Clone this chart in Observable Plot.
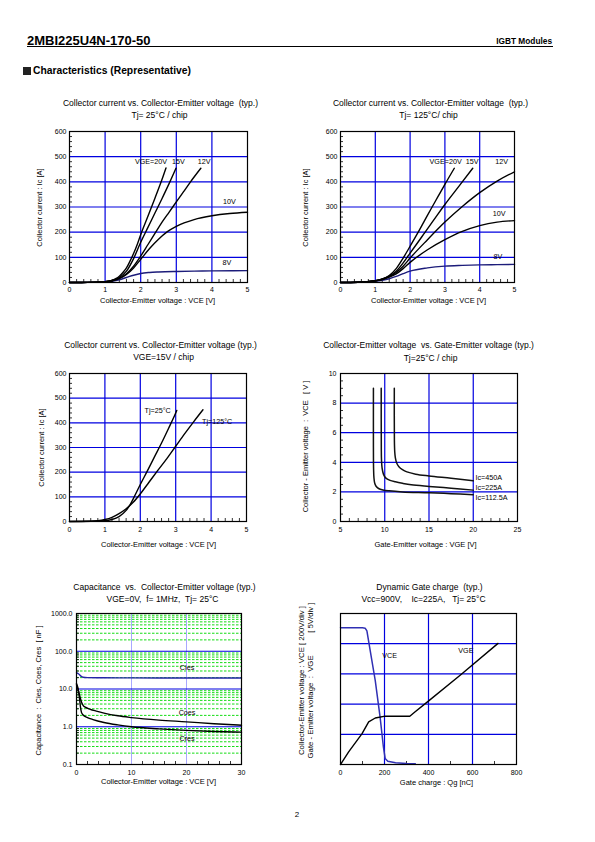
<!DOCTYPE html>
<html><head><meta charset="utf-8">
<script src="https://cdn.jsdelivr.net/npm/d3@7"></script>
<script src="https://cdn.jsdelivr.net/npm/@observablehq/plot@0.6"></script>
<style>
html,body{margin:0;padding:0;background:#fff;}
#page{position:relative;width:595px;height:842px;overflow:hidden;font-family:"Liberation Sans",Arial,sans-serif;color:#000;background:#fff;}
.abs{position:absolute;white-space:pre;line-height:1;}
svg text{white-space:pre;}
</style></head><body><div id="page">
<div class="abs" style="left:27px;top:33.5px;font-size:13px;font-weight:bold;">2MBI225U4N-170-50</div>
<div class="abs" style="left:27px;top:45.5px;width:526px;height:1px;background:#000;"></div>
<div class="abs" style="right:43px;top:36.5px;font-size:8.3px;font-weight:bold;">IGBT Modules</div>
<div class="abs" style="left:23px;top:67px;width:8px;height:8px;background:#222;"></div>
<div class="abs" style="left:33px;top:66.3px;font-size:10.3px;font-weight:bold;">Characteristics (Representative)</div>
<div class="abs" style="left:292px;top:811px;font-size:8px;width:10px;text-align:center;">2</div>
</div>
<script>
// ================= DATA =================
// Output characteristics, Tj = 25°C  [VCE (V), Ic (A)]
const ic25_vge20 = [[0,0],[0.5,0.5],[1.0,3],[1.2,8],[1.3,15],[1.4,25],[1.5,40],[1.6,58],[1.7,85],[1.8,115],[1.9,150],[2.0,190],[2.2,262],[2.4,335],[2.6,410],[2.71,455]];
const ic25_vge15 = [[0,0],[0.5,0.5],[1.0,3],[1.2,8],[1.4,20],[1.6,45],[1.8,95],[2.0,160],[2.2,218],[2.4,276],[2.6,334],[2.8,394],[2.99,454]];
const ic25_vge12 = [[0,0],[0.5,0.5],[1.0,3],[1.2,7],[1.4,17],[1.6,35],[1.8,65],[2.0,105],[2.2,150],[2.4,195],[2.6,240],[2.8,280],[3.0,320],[3.2,360],[3.4,400],[3.69,454]];
const ic25_vge10 = [[0,0],[0.5,0.5],[1.0,3],[1.2,7],[1.4,15],[1.6,32],[1.8,58],[2.0,92],[2.25,135],[2.5,172],[2.75,202],[3.0,223],[3.5,250],[4.0,265],[4.5,274],[5,279]];
const ic25_vge8  = [[0,0],[0.5,0.5],[1.0,2],[1.2,5],[1.4,11],[1.6,20],[1.8,29],[2.0,36],[2.25,40],[2.5,42],[3,44],[3.5,45],[4,46],[5,47]];
const labels25 = [{x:2.29,y:481,t:"VGE=20V"},{x:3.06,y:481,t:"15V"},{x:3.78,y:481,t:"12V"},{x:4.49,y:322,t:"10V"},{x:4.42,y:79,t:"8V"}];

// Output characteristics, Tj = 125°C
const ic125_vge20 = [[0,0],[0.5,1],[1.0,7],[1.2,14],[1.4,28],[1.6,55],[1.8,97],[2.0,144],[2.2,192],[2.4,242],[2.6,292],[2.8,341],[3.0,390],[3.27,454]];
const ic125_vge15 = [[0,0],[0.5,1],[1.0,7],[1.2,13],[1.4,25],[1.6,45],[1.8,78],[2.0,117],[2.2,155],[2.4,194],[2.6,233],[2.8,272],[3.0,310],[3.4,382],[3.8,454]];
const ic125_vge12 = [[0,0],[0.5,1],[1.0,7],[1.2,13],[1.4,23],[1.6,40],[1.8,65],[2.0,97],[2.5,170],[3.0,240],[3.5,302],[4.0,357],[4.5,403],[5,440]];
const ic125_vge10 = [[0,0],[0.5,1],[1.0,7],[1.2,12],[1.4,21],[1.6,34],[1.8,55],[2.0,80],[2.5,130],[3.0,170],[3.5,203],[4.0,226],[4.5,240],[5,246]];
const ic125_vge8  = [[0,0],[0.5,1],[1.0,5],[1.2,9],[1.4,15],[1.6,24],[1.8,35],[2.0,45],[2.5,58],[3,65],[3.5,68],[4,70],[4.5,71],[5,72]];
const labels125 = [{x:3.02,y:481,t:"VGE=20V"},{x:3.78,y:481,t:"15V"},{x:4.63,y:481,t:"12V"},{x:4.56,y:275,t:"10V"},{x:4.52,y:103,t:"8V"}];

// VGE = 15V, two temperatures
const ic15_tj25  = [[0,0],[0.5,1],[1.0,3],[1.2,8],[1.4,20],[1.6,45],[1.7,65],[1.8,92],[2.0,150],[2.2,205],[2.4,262],[2.6,318],[2.8,378],[3.0,440],[3.03,450]];
const ic15_tj125 = [[0,0],[0.6,1],[0.8,3],[1.0,8],[1.2,17],[1.4,32],[1.6,52],[1.8,78],[2.0,112],[2.25,160],[2.5,208],[2.75,255],[3.0,305],[3.25,355],[3.5,403],[3.77,453]];
const labelsTj = [{x:2.49,y:451,t:"Tj=25°C"},{x:4.17,y:403,t:"Tj=125°C"}];

// VCE vs VGE  [VGE (V), VCE (V)]
const vce_ic450  = [[11.08,9],[11.09,5.5],[11.13,4.7],[11.2,4.3],[11.35,3.95],[11.6,3.7],[12.0,3.5],[12.5,3.35],[13.5,3.2],[15,3.08],[17.5,2.92],[20,2.75]];
const vce_ic225  = [[9.6,9],[9.61,5],[9.63,4.2],[9.7,3.6],[9.85,3.2],[10.1,2.95],[10.6,2.78],[11.2,2.68],[12,2.58],[13,2.48],[15,2.37],[17.5,2.25],[20,2.12]];
const vce_ic1125 = [[8.72,9],[8.72,5],[8.74,3.5],[8.78,2.95],[8.86,2.6],[9.0,2.4],[9.3,2.23],[9.8,2.13],[10.5,2.07],[12,2.0],[15,1.94],[17.5,1.88],[20,1.81]];
const labelsIc = [{x:20.25,y:2.99,t:"Ic=450A"},{x:20.25,y:2.28,t:"Ic=225A"},{x:20.25,y:1.64,t:"Ic=112.5A"}];

// Capacitance  [VCE (V), C (nF)]
const cies = [[0,27],[0.4,25],[0.8,22],[1.2,20.5],[2,20],[5,19.8],[10,19.7],[20,19.6],[30,19.5]];
const coes = [[0,13],[0.3,9.5],[0.6,6.5],[0.9,4.5],[1.2,3.7],[1.6,3.3],[2.5,2.9],[3.6,2.6],[5,2.3],[7.5,1.95],[10,1.75],[15,1.5],[20,1.35],[25,1.2],[30,1.1]];
const cres = [[0,14],[0.3,10],[0.5,6.5],[0.7,3.5],[0.9,2.4],[1.2,2.05],[2,1.75],[3,1.55],[5,1.3],[7.5,1.12],[10,1.0],[15,0.88],[20,0.8],[25,0.75],[30,0.72]];
const labelsCap = [{x:20.1,y:37.8,t:"Cies"},{x:20.1,y:2.43,t:"Coes"},{x:20.1,y:0.48,t:"Cres"}];

// Dynamic gate charge  [Qg (nC), VCE (V)] and [Qg (nC), VGE (V, 5V/div from bottom)]
const gateVCE = [[0,905],[50,905],[100,905],[112,903],[120,885],[135,754],[158,556],[180,314],[195,116],[203,40],[215,22],[250,12],[300,7],[340,5]];
const gateVGE = [[0,0],[37,2.1],[98,5.1],[128,7.05],[158,7.7],[203,8.0],[315,8.0],[338,8.7],[398,10.45],[548,14.9],[716,20.05]];
const labelsGate = [{x:223,y:720,t:"VCE"},{x:570,y:752,t:"VGE"}];

// Tick values
const vceTicks = [0,1,2,3,4,5];
const icTicks = [0,100,200,300,400,500,600];
const vgeTicks = [5,10,15,20,25];
const vceYTicks = [0,2,4,6,8,10];
const capXTicks = [0,10,20,30];
const capYTicks = [0.1,1,10,100,1000];
const qgTicks = [0,200,400,600,800];

// ================= HELPERS =================
const BLUE = "#0000e0";
const FONT = "Liberation Sans, Arial, sans-serif";
const XY = {x: d => d[0], y: d => d[1]};
const plain = d => String(d);

function place(svg, f) {
  svg.style.position = "absolute";
  svg.style.left = f.sx + "px";
  svg.style.top = f.sy + "px";
  svg.style.maxWidth = "none";
  svg.style.background = "transparent";
  svg.style.overflow = "visible";
  document.getElementById("page").appendChild(svg);
}
function plot(f, x, y, marks) {
  return Plot.plot({
    width: f.sw, height: f.sh,
    marginLeft: f.L - f.sx, marginRight: f.sx + f.sw - f.R,
    marginTop: f.T - f.sy, marginBottom: f.sy + f.sh - f.B,
    x, y,
    style: {fontFamily: FONT, fontSize: "7px", background: "transparent", overflow: "visible", color: "#000"},
    marks
  });
}
function txt(f, s, px, py, o = {}) {
  return Plot.text([s], {text: d => d, frameAnchor: "top-left", dx: px - f.L, dy: py - f.T,
    textAnchor: "middle", lineAnchor: "bottom", fontSize: 8.5, fill: "#000", ...o});
}
function ylab(f, s, px, py, o = {}) {
  return txt(f, s, px, py, {rotate: -90, lineAnchor: "middle", fontSize: 7.5, ...o});
}
function minorX(f, vals, len = 3) { return Plot.ruleX(vals, {stroke: "#000", strokeWidth: 0.8, insetTop: (f.B - f.T) - len}); }
function minorY(f, vals, len = 3) { return Plot.ruleY(vals, {stroke: "#000", strokeWidth: 0.8, insetRight: (f.R - f.L) - len}); }
const frame = () => Plot.frame({stroke: "#000", strokeWidth: 1.2});
const curveLabels = (lab, o = {}) => Plot.text(lab, {x: "x", y: "y", text: "t", fontSize: 7.2, lineAnchor: "middle", fill: "#000", ...o});

const minorV = d3.range(0.2, 5, 0.2).filter(v => Math.abs(v - Math.round(v)) > 0.05);
const minorI = d3.range(20, 600, 20).filter(v => v % 100 !== 0);

// ================= CHART 1 =================
const F1 = {L:69, R:247, T:131, B:282, sx:25, sy:92, sw:245, sh:218};
place(plot(F1,
  {domain:[0,5], ticks: vceTicks, tickFormat: plain, tickSize: 0, tickPadding: 5, label: null},
  {domain:[0,600], ticks: icTicks, tickFormat: plain, tickSize: 0, tickPadding: 3, label: null},
  [
    Plot.ruleX([1,2,3,4], {stroke: BLUE, strokeWidth: 1.2}),
    Plot.ruleY([100,200,300,400,500], {stroke: BLUE, strokeWidth: 1.2}),
    minorX(F1, minorV), minorY(F1, minorI),
    Plot.line(ic25_vge8, {...XY, stroke: "#1c1c7a", strokeWidth: 1.4, curve: "monotone-x"}),
    Plot.line(ic25_vge10, {...XY, stroke: "#000", strokeWidth: 1.4, curve: "monotone-x"}),
    Plot.line(ic25_vge12, {...XY, stroke: "#000", strokeWidth: 1.4, curve: "monotone-x"}),
    Plot.line(ic25_vge15, {...XY, stroke: "#000", strokeWidth: 1.4, curve: "monotone-x"}),
    Plot.line(ic25_vge20, {...XY, stroke: "#000", strokeWidth: 1.4, curve: "monotone-x"}),
    curveLabels(labels25),
    frame(),
    txt(F1, "Collector current vs. Collector-Emitter voltage  (typ.)", 160, 105.5),
    txt(F1, "Tj= 25°C / chip", 159, 117),
    txt(F1, "Collector-Emitter voltage : VCE [V]", 157, 302, {fontSize: 7.5}),
    ylab(F1, "Collector current : Ic [A]", 39.5, 207)
  ]), F1);

// ================= CHART 2 =================
const F2 = {L:340, R:514, T:131, B:282, sx:295, sy:92, sw:245, sh:218};
place(plot(F2,
  {domain:[0,5], ticks: vceTicks, tickFormat: plain, tickSize: 0, tickPadding: 5, label: null},
  {domain:[0,600], ticks: icTicks, tickFormat: plain, tickSize: 0, tickPadding: 3, label: null},
  [
    Plot.ruleX([1,2,3,4], {stroke: BLUE, strokeWidth: 1.2}),
    Plot.ruleY([100,200,300,400,500], {stroke: BLUE, strokeWidth: 1.2}),
    minorX(F2, minorV), minorY(F2, minorI),
    Plot.line(ic125_vge8, {...XY, stroke: "#1c1c7a", strokeWidth: 1.4, curve: "monotone-x"}),
    Plot.line(ic125_vge10, {...XY, stroke: "#000", strokeWidth: 1.4, curve: "monotone-x"}),
    Plot.line(ic125_vge12, {...XY, stroke: "#000", strokeWidth: 1.4, curve: "monotone-x"}),
    Plot.line(ic125_vge15, {...XY, stroke: "#000", strokeWidth: 1.4, curve: "monotone-x"}),
    Plot.line(ic125_vge20, {...XY, stroke: "#000", strokeWidth: 1.4, curve: "monotone-x"}),
    curveLabels(labels125),
    frame(),
    txt(F2, "Collector current vs. Collector-Emitter voltage  (typ.)", 430, 105.5),
    txt(F2, "Tj= 125°C/ chip", 428, 117),
    txt(F2, "Collector-Emitter voltage : VCE [V]", 428, 302, {fontSize: 7.5}),
    ylab(F2, "Collector current : Ic [A]", 305, 207)
  ]), F2);

// ================= CHART 3 =================
const F3 = {L:69, R:246, T:373, B:521, sx:25, sy:333, sw:245, sh:220};
place(plot(F3,
  {domain:[0,5], ticks: vceTicks, tickFormat: plain, tickSize: 0, tickPadding: 6, label: null},
  {domain:[0,600], ticks: icTicks, tickFormat: plain, tickSize: 0, tickPadding: 3, label: null},
  [
    Plot.ruleX([1,2,3,4], {stroke: BLUE, strokeWidth: 1.2}),
    Plot.ruleY([100,200,300,400,500], {stroke: BLUE, strokeWidth: 1.2}),
    minorX(F3, minorV), minorY(F3, minorI),
    Plot.line(ic15_tj125, {...XY, stroke: "#000", strokeWidth: 1.4, curve: "monotone-x"}),
    Plot.line(ic15_tj25, {...XY, stroke: "#000", strokeWidth: 1.4, curve: "monotone-x"}),
    curveLabels(labelsTj),
    frame(),
    txt(F3, "Collector current vs. Collector-Emitter voltage (typ.)", 160, 347),
    txt(F3, "VGE=15V / chip", 163, 359.5),
    txt(F3, "Collector-Emitter voltage : VCE [V]", 158, 546, {fontSize: 7.5}),
    ylab(F3, "Collector current : Ic [A]", 41, 447)
  ]), F3);

// ================= CHART 4 =================
const F4 = {L:340, R:517, T:373, B:521, sx:295, sy:333, sw:250, sh:220};
place(plot(F4,
  {domain:[5,25], ticks: vgeTicks, tickFormat: plain, tickSize: 0, tickPadding: 6, label: null},
  {domain:[0,10], ticks: vceYTicks, tickFormat: plain, tickSize: 0, tickPadding: 4, label: null},
  [
    Plot.ruleX([10,15,20], {stroke: BLUE, strokeWidth: 1.2}),
    Plot.ruleY([2,4,6,8], {stroke: BLUE, strokeWidth: 1.2}),
    minorX(F4, d3.range(6, 25, 1).filter(v => v % 5 !== 0)),
    minorY(F4, d3.range(0.5, 10, 0.5).filter(v => v % 2 !== 0)),
    Plot.line(vce_ic1125, {...XY, stroke: "#111", strokeWidth: 1.5, curve: "catmull-rom"}),
    Plot.line(vce_ic225, {...XY, stroke: "#111", strokeWidth: 1.5, curve: "catmull-rom"}),
    Plot.line(vce_ic450, {...XY, stroke: "#111", strokeWidth: 1.5, curve: "catmull-rom"}),
    curveLabels(labelsIc, {textAnchor: "start"}),
    frame(),
    txt(F4, "Collector-Emitter voltage  vs. Gate-Emitter voltage (typ.)", 428, 347),
    txt(F4, "Tj=25°C / chip", 430, 360.5),
    txt(F4, "Gate-Emitter voltage : VGE [V]", 425, 546, {fontSize: 7.5}),
    ylab(F4, "Collector - Emitter voltage  :  VCE   [ V ]", 305, 446)
  ]), F4);

// ================= CHART 5 =================
const F5 = {L:76, R:241, T:613, B:764, sx:25, sy:573, sw:245, sh:222};
const capMinor = [0.1,1,10,100].flatMap(d => d3.range(2,10).map(k => +(k*d).toPrecision(3)));
place(plot(F5,
  {domain:[0,30], ticks: capXTicks, tickFormat: plain, tickSize: 0, tickPadding: 6, label: null},
  {type: "log", domain:[0.1,1000], ticks: capYTicks, tickFormat: d => d.toFixed(1), tickSize: 0, tickPadding: 4, label: null},
  [
    Plot.ruleY(capMinor, {stroke: "#14dc14", strokeWidth: 1, strokeDasharray: "2.5,1.5"}),
    Plot.ruleX([10,20], {stroke: "#a8a8ff", strokeWidth: 1}),
    Plot.ruleY([1,10,100], {stroke: BLUE, strokeWidth: 1.2}),
    minorX(F5, d3.range(2, 30, 2).filter(v => v % 10 !== 0)),
    minorY(F5, capMinor),
    Plot.line(cies, {...XY, stroke: "#2424a8", strokeWidth: 1.4, curve: "monotone-x"}),
    Plot.line(coes, {...XY, stroke: "#000", strokeWidth: 1.4, curve: "monotone-x"}),
    Plot.line(cres, {...XY, stroke: "#000", strokeWidth: 1.4, curve: "monotone-x"}),
    curveLabels(labelsCap),
    frame(),
    txt(F5, "Capacitance  vs.  Collector-Emitter voltage (typ.)", 164, 589),
    txt(F5, "VGE=0V,  f= 1MHz,  Tj= 25°C", 162, 601),
    txt(F5, "Collector-Emitter voltage : VCE [V]", 158, 783, {fontSize: 7.5}),
    ylab(F5, "Capacitance  :  Cies, Coes, Cres  [ nF ]", 38, 690)
  ]), F5);

// ================= CHART 6 =================
const F6 = {L:340, R:516, T:613, B:764, sx:295, sy:573, sw:250, sh:222};
place(plot(F6,
  {domain:[0,800], ticks: qgTicks, tickFormat: plain, tickSize: 0, tickPadding: 6, label: null},
  {domain:[0,1000], axis: null},
  [
    Plot.ruleX([200,400,600], {stroke: BLUE, strokeWidth: 1.2}),
    Plot.ruleY([200,400,600,800], {stroke: BLUE, strokeWidth: 1.2}),
    minorX(F6, [100,300,500,700]),
    Plot.line(gateVCE, {...XY, stroke: "#3030b4", strokeWidth: 1.5}),
    Plot.line(gateVGE, {x: d => d[0], y: d => d[1] * 40, stroke: "#000", strokeWidth: 1.4}),
    curveLabels(labelsGate),
    frame(),
    txt(F6, "Dynamic Gate charge  (typ.)", 429, 589),
    txt(F6, "Vcc=900V,    Ic=225A,   Tj= 25°C", 423, 601),
    txt(F6, "Gate charge : Qg [nC]", 436, 784, {fontSize: 7.5}),
    ylab(F6, "Collector-Emitter voltage : VCE [ 200V/div ]", 301, 680, {fontSize: 7.8}),
    ylab(F6, "Gate - Emitter voltage  :  VGE", 309.5, 758, {fontSize: 7.8, textAnchor: "start"}),
    ylab(F6, "[ 5V/div ]", 309.5, 602, {fontSize: 7.8, textAnchor: "end"})
  ]), F6);
</script>
</body></html>
